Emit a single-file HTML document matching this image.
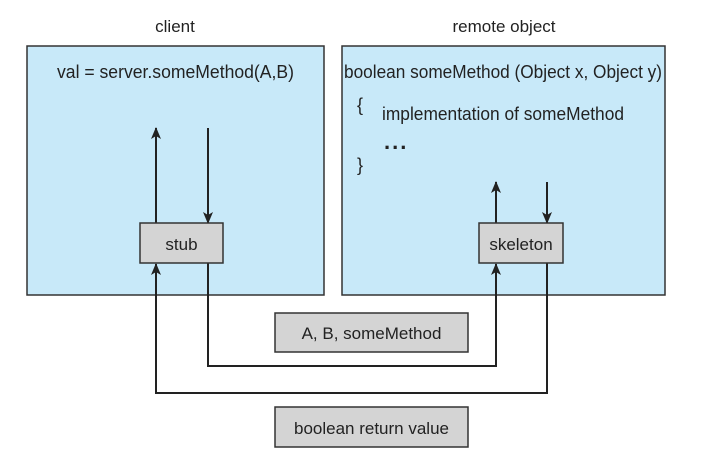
<!DOCTYPE html>
<html><head><style>
body{margin:0;background:#fff;}
svg text{font-family:"Liberation Sans",Arial,sans-serif;fill:#222;}
</style></head><body>
<svg width="715" height="468" viewBox="0 0 715 468" xmlns="http://www.w3.org/2000/svg">
<defs><marker id="a" markerWidth="12" markerHeight="10" refX="11" refY="5" orient="auto" markerUnits="userSpaceOnUse"><path d="M0,0 L12,5 L0,10 L3,5 Z" fill="#222"/></marker></defs>
<text x="175" y="32" font-size="17" text-anchor="middle">client</text>
<text x="504" y="32" font-size="17" text-anchor="middle">remote object</text>
<rect x="27" y="46" width="297" height="249" fill="#c8e9f9" stroke="#333" stroke-width="1.5"/>
<rect x="342" y="46" width="323" height="249" fill="#c8e9f9" stroke="#333" stroke-width="1.5"/>
<text x="57" y="78" font-size="18" textLength="237" lengthAdjust="spacingAndGlyphs">val = server.someMethod(A,B)</text>
<text x="344" y="78" font-size="18" textLength="318" lengthAdjust="spacingAndGlyphs">boolean someMethod (Object x, Object y)</text>
<text x="357" y="111" font-size="18">{</text>
<text x="382" y="120" font-size="18" textLength="242" lengthAdjust="spacingAndGlyphs">implementation of someMethod</text>
<text x="384" y="149" font-size="22" font-weight="bold" letter-spacing="2">...</text>
<text x="357" y="171" font-size="18">}</text>
<g stroke="#222" stroke-width="2" fill="none">
<line x1="156" y1="223" x2="156" y2="128" marker-end="url(#a)"/>
<line x1="208" y1="128" x2="208" y2="223" marker-end="url(#a)"/>
<line x1="496" y1="223" x2="496" y2="182" marker-end="url(#a)"/>
<line x1="547" y1="182" x2="547" y2="223" marker-end="url(#a)"/>
<polyline points="208,263 208,366 496,366 496,264" marker-end="url(#a)"/>
<polyline points="547,263 547,393 156,393 156,264" marker-end="url(#a)"/>
</g>
<rect x="140" y="223" width="83" height="40" fill="#d4d4d4" stroke="#333" stroke-width="1.5"/>
<text x="181.5" y="250" font-size="17" text-anchor="middle">stub</text>
<rect x="479" y="223" width="84" height="40" fill="#d4d4d4" stroke="#333" stroke-width="1.5"/>
<text x="521" y="250" font-size="17" text-anchor="middle">skeleton</text>
<rect x="275" y="313" width="193" height="39" fill="#d4d4d4" stroke="#333" stroke-width="1.5"/>
<text x="371.5" y="339" font-size="17" text-anchor="middle">A, B, someMethod</text>
<rect x="275" y="407" width="193" height="40" fill="#d4d4d4" stroke="#333" stroke-width="1.5"/>
<text x="371.5" y="434" font-size="17" text-anchor="middle">boolean return value</text>
</svg>
</body></html>
